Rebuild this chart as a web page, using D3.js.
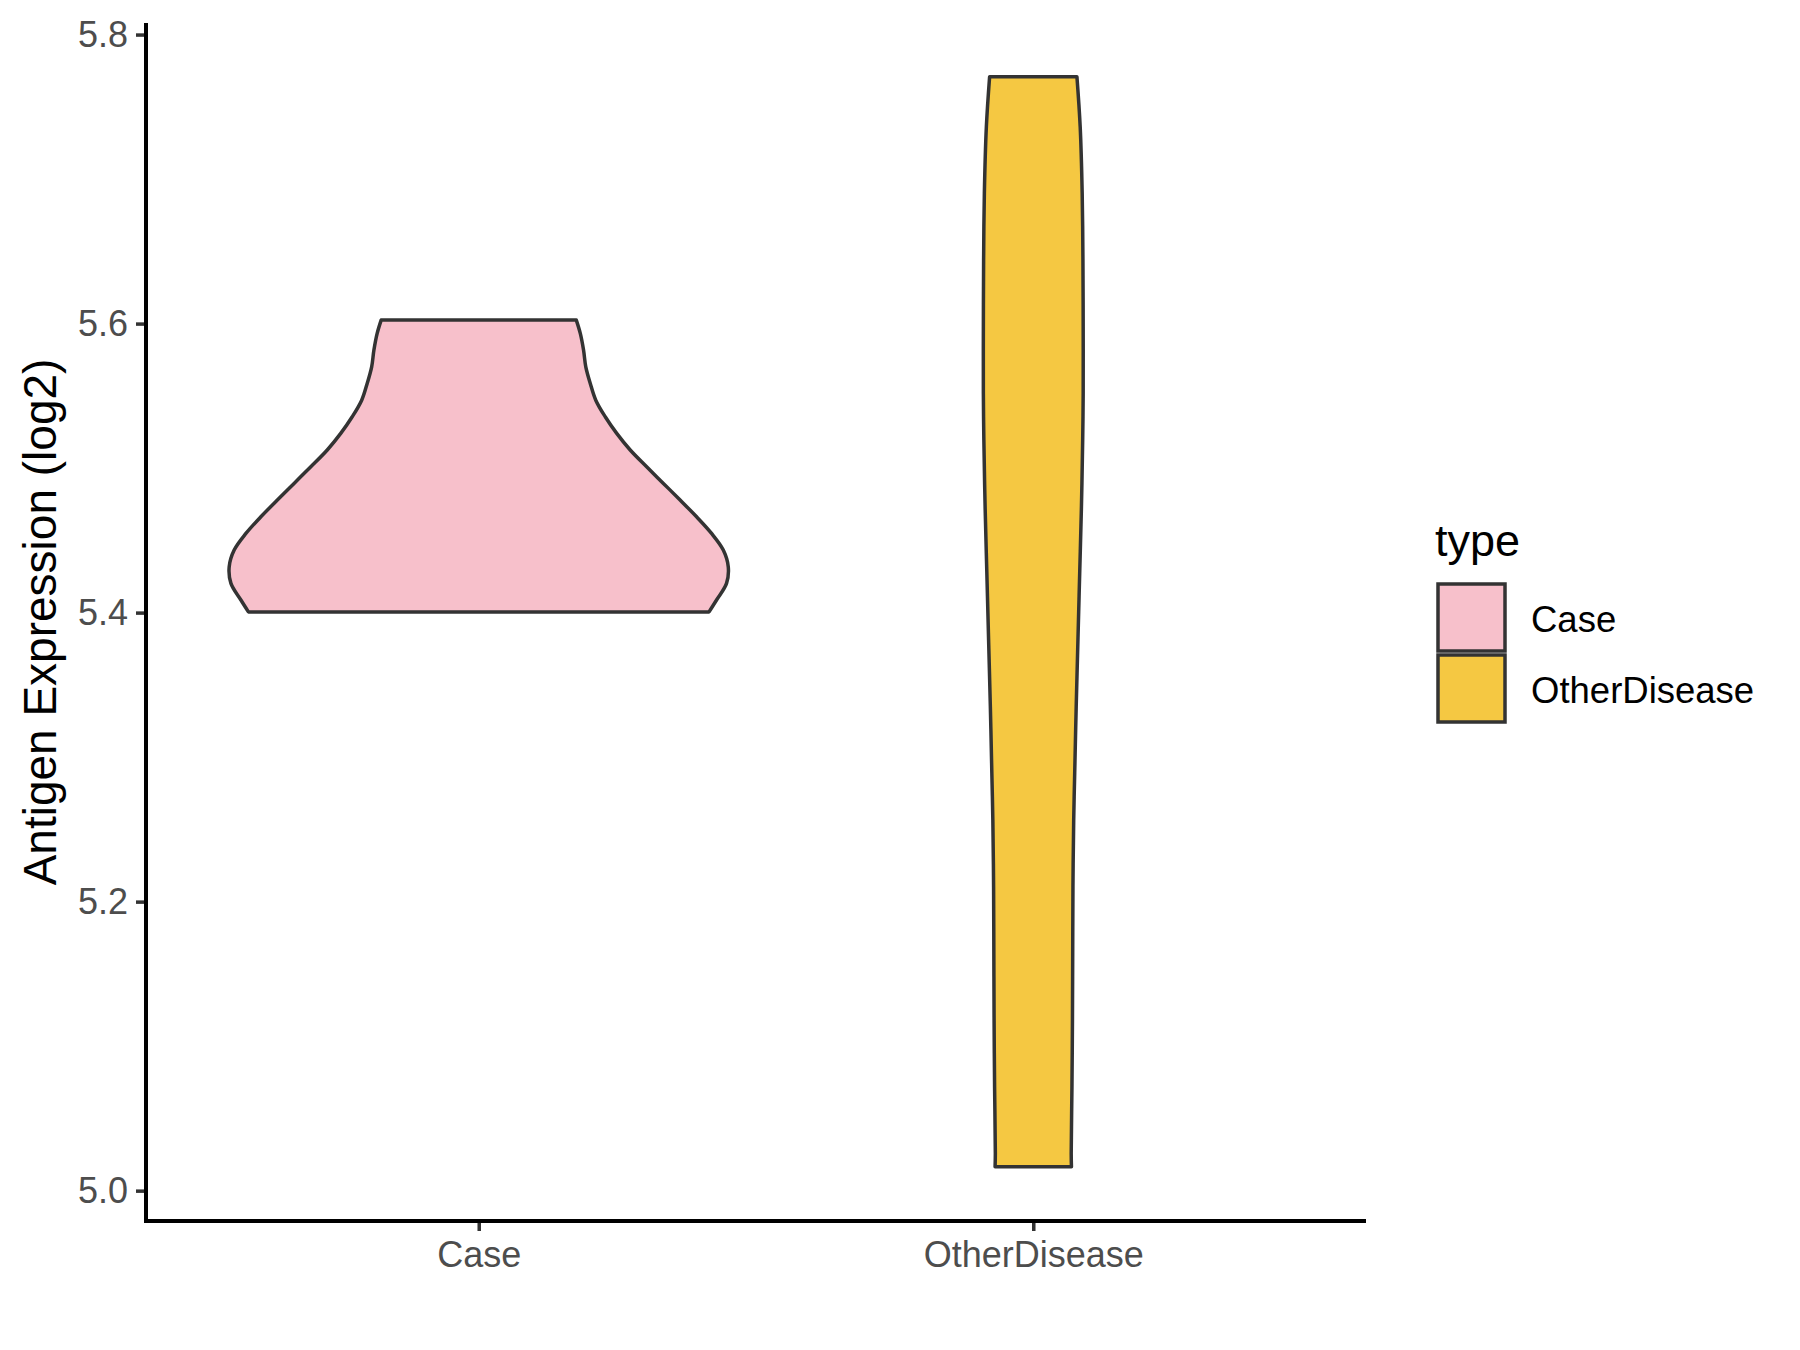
<!DOCTYPE html>
<html>
<head>
<meta charset="utf-8">
<script src="https://cdn.jsdelivr.net/npm/d3@7"></script>
<style>
  body { margin: 0; background: #fff; }
  svg { font-family: "Liberation Sans", Arial, sans-serif; }
</style>
</head>
<body>
<svg id="chart" width="1800" height="1350"></svg>
<script>
// groups and colours
let categories = ["Case", "OtherDisease"];
let fills = ["#F7C0CB", "#F5C842"];
let yTicks = [5.0, 5.2, 5.4, 5.6, 5.8];

// violin outlines: value and scaled density (1 = widest)
let caseValues = [5.4005, 5.4087, 5.4202, 5.4317, 5.4433, 5.4548, 5.4663, 5.4779, 5.4894, 5.5009,
    5.5125, 5.524, 5.5355, 5.547, 5.5586, 5.5701, 5.5817, 5.5932, 5.6024];
let caseDensity = [0.923, 0.953, 0.993, 1.0, 0.98, 0.933, 0.873, 0.807, 0.74, 0.673,
    0.607, 0.553, 0.507, 0.469, 0.447, 0.429, 0.42, 0.407, 0.391];
let otherValues = [5.0165, 5.0257, 5.0718, 5.118, 5.1641, 5.2102, 5.2564, 5.2887, 5.3348, 5.381,
    5.4271, 5.4732, 5.5194, 5.5517, 5.5978, 5.6439, 5.6901, 5.7362, 5.7708];
let otherDensity = [0.153, 0.152, 0.155, 0.157, 0.158, 0.159, 0.162, 0.166, 0.172, 0.179,
    0.186, 0.193, 0.198, 0.2, 0.2, 0.199, 0.196, 0.188, 0.175];

let violins = [
    { cat: "Case", values: caseValues, density: caseDensity },
    { cat: "OtherDisease", values: otherValues, density: otherDensity }
];

let panelLeft = 146, panelRight = 1366, panelTop = 23, panelBottom = 1221;
let svg = d3.select("#chart");

let x = d3.scalePoint().domain(categories).range([panelLeft, panelRight]).padding(0.6);
let y = d3.scaleLinear().domain([4.979, 5.808]).range([panelBottom, panelTop]);
let color = d3.scaleOrdinal().domain(categories).range(fills);
let maxHalf = 0.45 * x.step();

// violins
violins.forEach(v => {
    let cx = x(v.cat);
    let pts = v.values.map((val, i) => ({ v: val, w: v.density[i] }));
    let area = d3.area()
        .curve(d3.curveCatmullRom.alpha(0.5))
        .y(d => y(d.v))
        .x0(d => cx - d.w * maxHalf)
        .x1(d => cx + d.w * maxHalf);
    svg.append("path")
        .attr("d", area(pts))
        .attr("fill", color(v.cat))
        .attr("stroke", "#333333")
        .attr("stroke-width", 3.5)
        .attr("stroke-linejoin", "round");
});

// y axis
let yAxis = svg.append("g")
    .attr("transform", `translate(${panelLeft},0)`)
    .call(d3.axisLeft(y).tickValues(yTicks).tickFormat(d3.format(".1f")).tickSize(10).tickPadding(8));
yAxis.select(".domain").remove();
yAxis.selectAll(".tick line").attr("stroke", "#333333").attr("stroke-width", 3.5);
yAxis.selectAll(".tick text").attr("fill", "#4D4D4D").style("font-size", "36px")
    .attr("font-family", "Liberation Sans, Arial, sans-serif");

// x axis
let xAxis = svg.append("g")
    .attr("transform", `translate(0,${panelBottom})`)
    .call(d3.axisBottom(x).tickSize(10).tickPadding(10));
xAxis.select(".domain").remove();
xAxis.selectAll(".tick line").attr("stroke", "#333333").attr("stroke-width", 3.5);
xAxis.selectAll(".tick text").attr("fill", "#4D4D4D").style("font-size", "36px")
    .attr("font-family", "Liberation Sans, Arial, sans-serif");

// axis lines
svg.append("line").attr("x1", panelLeft).attr("x2", panelLeft).attr("y1", panelTop).attr("y2", panelBottom + 2)
    .attr("stroke", "#000").attr("stroke-width", 4);
svg.append("line").attr("x1", panelLeft - 2).attr("x2", panelRight).attr("y1", panelBottom).attr("y2", panelBottom)
    .attr("stroke", "#000").attr("stroke-width", 4);

// y title
svg.append("text")
    .attr("transform", `translate(56,${(panelTop + panelBottom) / 2}) rotate(-90)`)
    .attr("text-anchor", "middle")
    .style("font-size", "46px")
    .attr("fill", "#000")
    .text("Antigen Expression (log2)");

// legend
let legend = svg.append("g");
legend.append("text")
    .attr("x", 1435).attr("y", 556)
    .style("font-size", "45px")
    .attr("fill", "#000")
    .text("type");
categories.forEach((c, i) => {
    let ky = 584 + i * 71;
    legend.append("rect")
        .attr("x", 1438).attr("y", ky)
        .attr("width", 67).attr("height", 67)
        .attr("fill", color(c))
        .attr("stroke", "#333333")
        .attr("stroke-width", 3.5);
    legend.append("text")
        .attr("x", 1531).attr("y", ky + 35)
        .attr("dominant-baseline", "central")
        .style("font-size", "36.5px")
        .attr("fill", "#000")
        .text(c);
});
</script>
</body>
</html>
